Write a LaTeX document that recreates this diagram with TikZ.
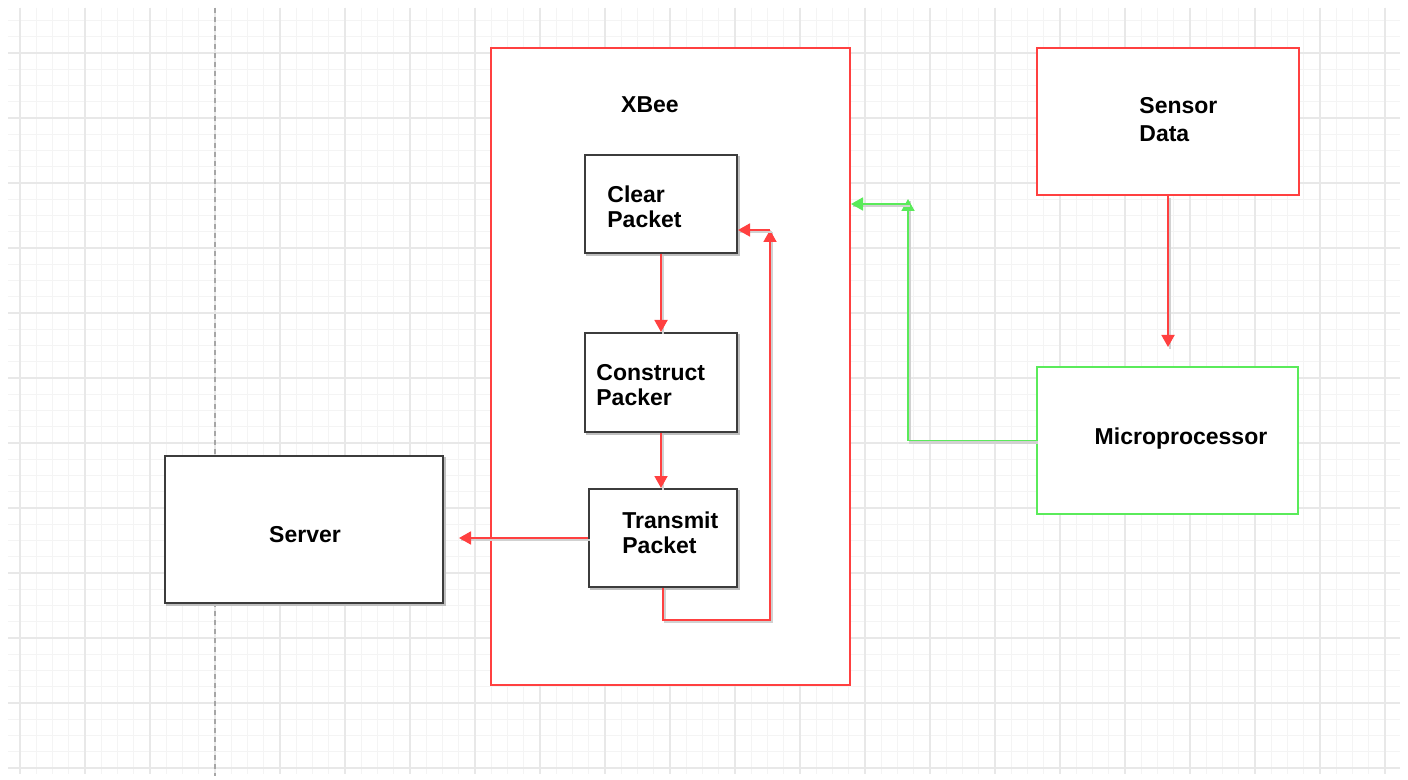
\documentclass[tikz,border=0pt]{standalone}
\usepackage{fontspec}
\setmainfont{Liberation Sans}
\usetikzlibrary{arrows.meta,calc}
\definecolor{bred}{RGB}{255,64,64}
\definecolor{bgreen}{RGB}{90,235,90}
\definecolor{bdark}{RGB}{60,60,60}
\definecolor{gminor}{RGB}{244,244,244}
\definecolor{gmajor}{RGB}{232,232,232}
\def\pxu{0.5pt}
\tikzset{
  box/.style={draw=#1, line width=1pt, fill=white, rectangle, inner sep=0pt},
  dbox/.style={box=bdark, preaction={draw=black!25, line width=1pt, transform canvas={shift={(0.9pt,-0.9pt)}}}},
  lbl/.style={font=\fontsize{11.5}{12.5}\selectfont\bfseries, inner sep=0pt, align=left},
  conn/.style={draw=#1, line width=0.9pt, -{Triangle[length=6pt,width=6.5pt]},
    preaction={draw=black!18, -, line width=1.1pt, transform canvas={shift={(1pt,-1pt)}}}},
}
\begin{document}
\begin{tikzpicture}[x=0.5pt,y=-0.5pt]
\useasboundingbox (0,0) rectangle (1408,780);
\fill[white] (0,0) rectangle (1408,780);
% grid
\begin{scope}
  \clip (8,8) rectangle (1400,774);
  \foreach \xx in {3.75,20,...,1405} \draw[gminor, line width=0.5pt] (\xx,8) -- (\xx,774);
  \foreach \yy in {4.25,20.5,...,780} \draw[gminor, line width=0.5pt] (8,\yy) -- (1400,\yy);
  \foreach \xx in {20,85,...,1405} \draw[gmajor, line width=0.6pt] (\xx,8) -- (\xx,774);
  \foreach \yy in {53,118,...,780} \draw[gmajor, line width=0.6pt] (8,\yy) -- (1400,\yy);
\end{scope}
\draw[black!35, line width=0.6pt, dash pattern=on 2.5pt off 2pt] (215,8) -- (215,776);

% boxes
\node[box=bred, minimum width={359*\pxu}, minimum height={637*\pxu}] (xbee) at (670.5,366.5) {};
\node[dbox, minimum width={152*\pxu}, minimum height={98*\pxu}] (clear) at (661,204) {};
\node[dbox, minimum width={152*\pxu}, minimum height={99*\pxu}] (construct) at (661,382.5) {};
\node[dbox, minimum width={148*\pxu}, minimum height={98*\pxu}] (transmit) at (663,538) {};
\node[dbox, minimum width={278*\pxu}, minimum height={147*\pxu}] (server) at (304,529.5) {};
\node[box=bred, minimum width={262*\pxu}, minimum height={147*\pxu}] (sensor) at (1168,121.5) {};
\node[box=bgreen, minimum width={261*\pxu}, minimum height={147*\pxu}] (micro) at (1167.5,440.5) {};

% labels
\node[lbl] (xbeeT) at (650,104.5) {XBee};
\node[lbl, anchor=west] (clearT) at (607,206.5) {Clear\\Packet};
\node[lbl, anchor=west] (constructT) at (596,385) {Construct\\Packer};
\node[lbl, anchor=west] (transmitT) at (622,532.5) {Transmit\\Packet};
\node[lbl] (serverT) at (305,535) {Server};
\node[lbl, font=\fontsize{11.5}{14.3}\selectfont\bfseries, anchor=west] (sensorT) at (1139,119.5) {Sensor\\Data};
\node[lbl] (microT) at (1181,439) {Microprocessor};

% connectors
\draw[conn=bred] (clear.south) -- (construct.north);
\draw[conn=bred] (construct.south) -- (construct.south |- transmit.north);
\draw[conn=bred, shorten >=7.5pt] (transmit.west) -- (transmit.west -| server.east);
\coordinate (lc) at (770,230);
\draw[conn=bred] (transmit.south) -- ++(0,32) -| (lc);
\draw[conn=bred] (lc) -- (lc -| clear.east);
\draw[conn=bred, shorten >=9.5pt] (sensor.south) -- (sensor.south |- micro.north);
\coordinate (gc) at (908,199);
\coordinate (gh) at (908,204);
\draw[conn=bgreen] (micro.west) -| (gc);
\draw[conn=bgreen] (gh) -- (gh -| xbee.east);
\end{tikzpicture}
\end{document}
